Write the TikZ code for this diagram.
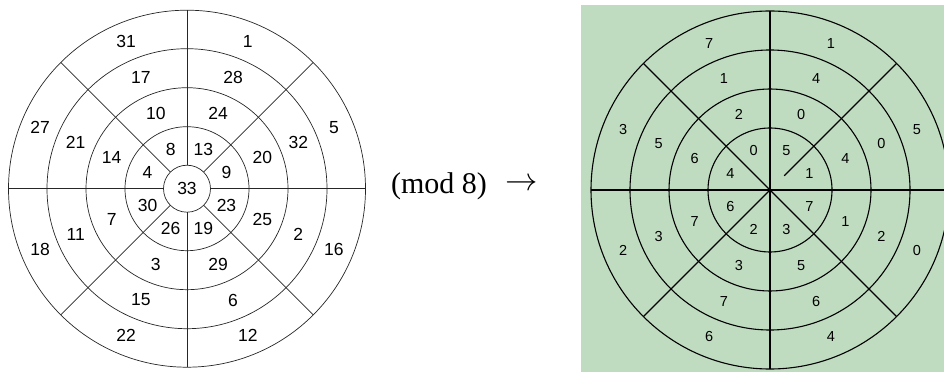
\documentclass[tikz,border=0pt]{standalone}
\usepackage{fontspec}
\setmainfont{Liberation Serif}
\newfontfamily\numfont{Liberation Sans}
\definecolor{screengreen}{RGB}{192,220,192}
% radius of ring middle / numbers from outer ring inwards, NNE first, clockwise
\newcommand\ringdata{159/{1,5,16,12,22,18,27,31},120.5/{28,32,2,6,15,11,21,17},81.5/{24,20,25,29,3,7,14,10},42.75/{13,9,23,19,26,30,4,8}}

\begin{document}
\begin{tikzpicture}[x=1pt,y=1pt,
    numlab/.style={font=\numfont\fontsize{17.5}{18}\selectfont},
    modlab/.style={font=\numfont\fontsize{14.5}{15}\selectfont}]
  \useasboundingbox (0,0) rectangle (944,372);
    % left disc
    \begin{scope}[shift={(187,183.3)}]
      \foreach \r in {23.5,62,101,140,178.5}
        \draw[line width=0.7pt,black!85] (0,0) circle (\r);
      \foreach \a in {0,45,...,315}
        \draw[line width=0.7pt,black!85] (\a:23.5) -- (\a:178.5);
      \node[numlab] (l0) at (0,0) {33};
      \foreach \rr/\lst [count=\k] in \ringdata
        \foreach \n [count=\i] in \lst
          \node[numlab] (l\k-\i) at ({112.5-45*\i}:\rr) {\n};
    \end{scope}
    % text in between
    \node[font=\fontsize{30}{32}\selectfont] (modtxt) at (439,186) {(mod 8)};
    \node[font=\fontsize{24.88}{26}\selectfont,scale=1.3] (arr) at (521.5,187) {$\rightarrow$};
    % right disc, residues
    \fill[screengreen] (581,0) rectangle (944,367);
    \begin{scope}[shift={(770,182)}]
      \clip (-189,-182) rectangle (174,185);
      \foreach \r in {62,101,140,179}
        \draw[line width=1.1pt] (0,0) circle (\r);
      \foreach \a in {0,90,135,180,225,270,315}
        \draw[line width=1.1pt] (0,0) -- (\a:179);
      \draw[line width=1.1pt] (45:20) -- (45:179);
      \foreach \rr/\lst [count=\k] in \ringdata
        \foreach \n [count=\i] in \lst {
          \pgfmathtruncatemacro\m{mod(\n,8)}
          \node[modlab] (r\k-\i) at ({112.5-45*\i}:\rr) {\m};
        }
    \end{scope}
\end{tikzpicture}
\end{document}
